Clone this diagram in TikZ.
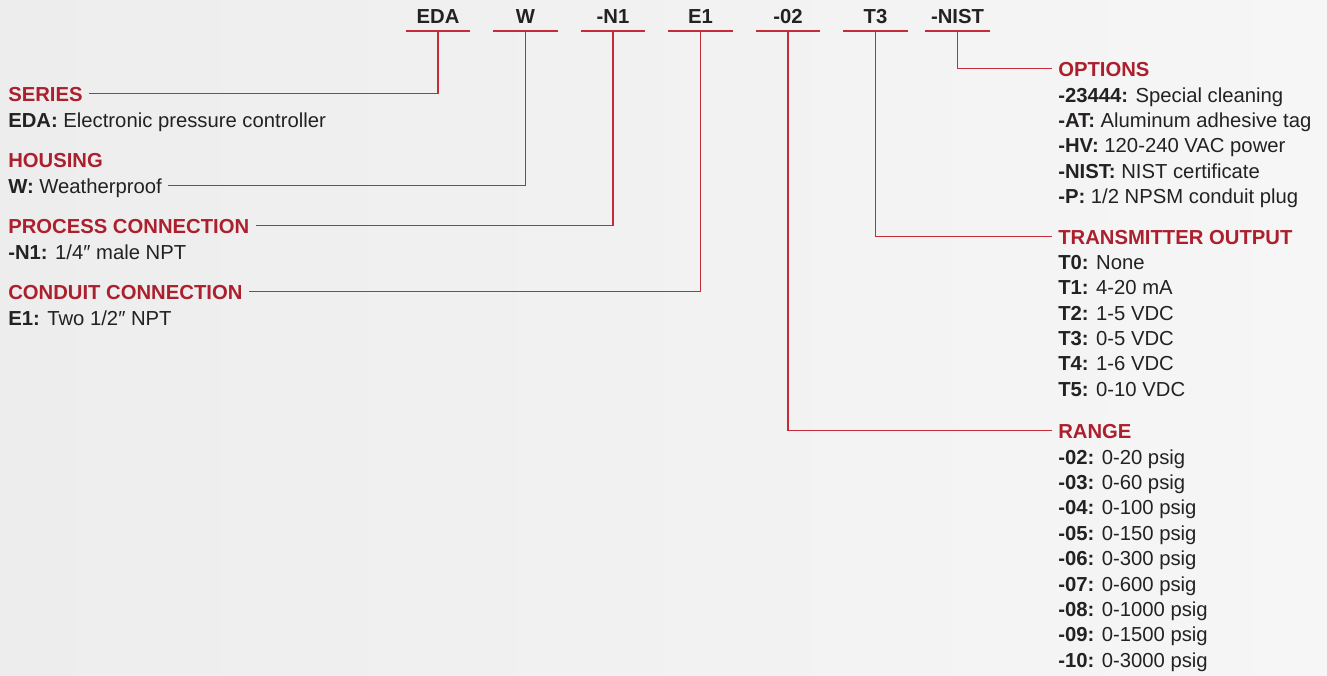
\documentclass[tikz,border=0pt]{standalone}
\usepackage{fontspec}
\setmainfont{Liberation Sans}
\usepackage{xcolor}
\definecolor{Col1}{RGB}{172,32,46}
\definecolor{Col2}{RGB}{198,44,56}
\definecolor{Col3}{RGB}{35,33,34}
\definecolor{Col4}{RGB}{238,237,237}
\definecolor{Col5}{RGB}{246,246,246}
\usepackage{tikz}
\newcommand{\LabelFont}{\fontsize{15.2}{19}\selectfont}
\tikzstyle{Code}=[font=\LabelFont\bfseries,text=Col3,anchor=south,
    inner xsep=0pt,inner ysep=5.25pt,text depth=0pt,minimum width=48pt]
\tikzstyle{Head}=[font=\LabelFont\bfseries,text=Col1,anchor=base west,
    inner xsep=4.5pt,inner ysep=0pt,text height=10.9pt,text depth=0pt]
\tikzstyle{Item}=[font=\LabelFont,text=Col3,anchor=base west,
    inner xsep=4.5pt,inner ysep=0pt,text height=10.9pt,text depth=0pt]
\tikzstyle{Edge}=[draw=Col2,line width=0.9pt]

\begin{document}
\begin{tikzpicture}[x=0.75pt,y=-0.75pt]
            \useasboundingbox(0,0)rectangle(1327,675);
            \fill[left color=Col4,right color=Col5](0,0)rectangle(1327,675);
            % model code
            \node[Code](eda)at(438.00,31.00){EDA};
            \node[Code](w)at(525.50,31.00){W};
            \node[Code](n1)at(613.00,31.00){-N1};
            \node[Code](e1)at(700.50,31.00){E1};
            \node[Code](r02)at(788.00,31.00){-02};
            \node[Code](t3)at(875.50,31.00){T3};
            \node[Code](nist)at(957.50,31.00){-NIST};
            \draw[Edge](eda.south west)--(eda.south east);
            \draw[Edge](w.south west)--(w.south east);
            \draw[Edge](n1.south west)--(n1.south east);
            \draw[Edge](e1.south west)--(e1.south east);
            \draw[Edge](r02.south west)--(r02.south east);
            \draw[Edge](t3.south west)--(t3.south east);
            \draw[Edge](nist.south west)--(nist.south east);
            % left side
            \node[Head](series)at(2.00,101.00){SERIES};
            \node[Item](series1)at(2.00,127.00)
                {\textbf{EDA:} Electronic pressure controller};
            \node[Head](housing)at(2.00,167.00){HOUSING};
            \node[Item](housing1)at(2.00,193.00)
                {\textbf{W:} Weatherproof};
            \node[Head](process)at(2.00,233.00){PROCESS CONNECTION};
            \node[Item](process1)at(2.00,259.00)
                {\textbf{-N1:} 1/4″ male NPT};
            \node[Head](conduit)at(2.00,299.00){CONDUIT CONNECTION};
            \node[Item](conduit1)at(2.00,325.00)
                {\textbf{E1:} Two 1/2″ NPT};
            % right side
            \node[Head](options)at(1052.00,76.00){OPTIONS};
            \node[Item](options1)at(1052.00,102.00)
                {\textbf{-23444:} Special cleaning};
            \node[Item](options2)at(1052.00,127.35)
                {\textbf{-AT:} Aluminum adhesive tag};
            \node[Item](options3)at(1052.00,152.70)
                {\textbf{-HV:} 120-240 VAC power};
            \node[Item](options4)at(1052.00,178.05)
                {\textbf{-NIST:} NIST certificate};
            \node[Item](options5)at(1052.00,203.40)
                {\textbf{-P:} 1/2 NPSM conduit plug};
            \node[Head](output)at(1052.00,244.00){TRANSMITTER OUTPUT};
            \node[Item](output0)at(1052.00,269.50){\textbf{T0:} None};
            \node[Item](output1)at(1052.00,294.85){\textbf{T1:} 4-20 mA};
            \node[Item](output2)at(1052.00,320.20){\textbf{T2:} 1-5 VDC};
            \node[Item](output3)at(1052.00,345.55){\textbf{T3:} 0-5 VDC};
            \node[Item](output4)at(1052.00,370.90){\textbf{T4:} 1-6 VDC};
            \node[Item](output5)at(1052.00,396.25){\textbf{T5:} 0-10 VDC};
            \node[Head](range)at(1052.00,438.00){RANGE};
            \node[Item](range02)at(1052.00,464.00){\textbf{-02:} 0-20 psig};
            \node[Item](range03)at(1052.00,489.40){\textbf{-03:} 0-60 psig};
            \node[Item](range04)at(1052.00,514.80){\textbf{-04:} 0-100 psig};
            \node[Item](range05)at(1052.00,540.20){\textbf{-05:} 0-150 psig};
            \node[Item](range06)at(1052.00,565.60){\textbf{-06:} 0-300 psig};
            \node[Item](range07)at(1052.00,591.00){\textbf{-07:} 0-600 psig};
            \node[Item](range08)at(1052.00,616.40){\textbf{-08:} 0-1000 psig};
            \node[Item](range09)at(1052.00,641.80){\textbf{-09:} 0-1500 psig};
            \node[Item](range10)at(1052.00,667.20){\textbf{-10:} 0-3000 psig};
            %
            \draw[Edge](eda.south)|-(series.east);
            \draw[Edge](w.south)|-(housing1.east);
            \draw[Edge](n1.south)|-(process.east);
            \draw[Edge](e1.south)|-(conduit.east);
            \draw[Edge](r02.south)|-(range.west);
            \draw[Edge](t3.south)|-(output.west);
            \draw[Edge](nist.south)|-(options.west);
        \end{tikzpicture}
\end{document}
